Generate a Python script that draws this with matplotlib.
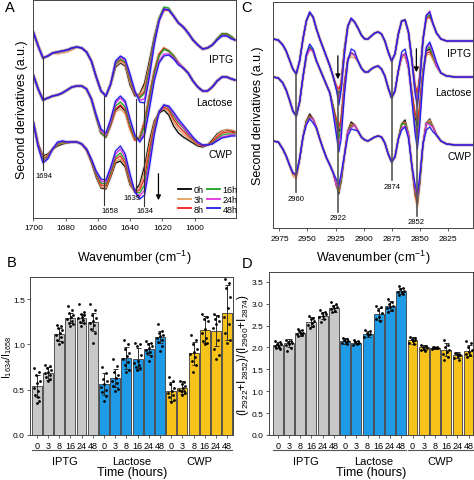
import numpy as np
import matplotlib
matplotlib.use('Agg')
import matplotlib.pyplot as plt
from matplotlib.lines import Line2D

plt.rcParams['font.family'] = ['Liberation Sans', 'DejaVu Sans']
plt.rcParams['mathtext.fontset'] = 'custom'
plt.rcParams['mathtext.rm'] = 'Liberation Sans'
plt.rcParams['mathtext.default'] = 'regular'

times = ['0h', '3h', '8h', '16h', '24h', '48h']
time_colors = ['black', '#e0a060', '#f02020', '#20a020', '#e030e0', '#1e1ee6']
groups = ['IPTG', 'Lactose', 'CWP']
hours = ['0', '3', '8', '16', '24', '48']

# ---- panel A: amide I second derivatives (offset traces, a.u., downward positive)
wn_A = [1700, 1697, 1694, 1691, 1688, 1685, 1682, 1679, 1676, 1673, 1670, 1667, 1664, 1661,
        1658, 1655, 1652, 1649, 1646, 1643, 1640, 1637, 1634, 1631, 1628, 1625, 1622, 1619,
        1616, 1613, 1610, 1607, 1604, 1601, 1598, 1595, 1592, 1589, 1586, 1583, 1580, 1577, 1575]

iptg_A_base = [33, 47, 59, 57, 54, 53, 52, 51, 49, 48, 49, 53, 62, 78, 92, 97, 85, 68, 64, 67, 86, 97,
               95, 84, 62, 38, 20, 11, 11, 17, 24, 28, 34, 41, 46, 50, 49, 46, 40, 35, 35, 38, 41]
iptg_A_edits = {
    '3h': {1685: 55, 1682: 54, 1679: 53, 1676: 51, 1649: 67, 1646: 63, 1643: 66, 1640: 84, 1637: 96,
           1634: 96, 1631: 87, 1628: 65, 1625: 40},
    '8h': {1649: 65, 1646: 61, 1643: 64, 1640: 81, 1637: 95, 1634: 98, 1631: 92, 1628: 69, 1625: 42, 1622: 21},
    '16h': {1649: 65, 1646: 60, 1643: 63, 1640: 80, 1637: 94, 1634: 99, 1631: 94, 1628: 70, 1625: 41,
            1622: 19, 1619: 8, 1616: 9},
    '24h': {1649: 63, 1646: 58, 1643: 61, 1640: 77, 1637: 93, 1634: 101, 1631: 100, 1628: 75, 1625: 44,
            1622: 21, 1619: 10, 1586: 41, 1583: 37, 1580: 37, 1577: 40},
    '48h': {1649: 62, 1646: 57, 1643: 60, 1640: 75, 1637: 92, 1634: 103, 1631: 104, 1628: 78, 1625: 46,
            1622: 22, 1619: 10, 1586: 41, 1583: 37, 1580: 37, 1577: 40},
}

lac_A_base = [76, 90, 101, 99, 97, 96, 94, 91, 88, 87, 87, 90, 100, 118, 134, 138, 126, 111, 107, 112,
              130, 141, 138, 122, 96, 72, 56, 50, 52, 57, 64, 69, 74, 82, 88, 92, 92, 88, 82, 78, 78, 80, 81]
lac_A_edits = {
    '3h': {1649: 113, 1646: 110, 1643: 115, 1640: 131, 1622: 55, 1619: 49},
    '8h': {1649: 110, 1646: 106, 1643: 111, 1640: 128, 1634: 139, 1631: 124, 1628: 98, 1625: 73,
           1622: 55, 1619: 49},
    '16h': {1652: 124, 1649: 107, 1646: 103, 1643: 108, 1640: 126, 1637: 139, 1634: 140, 1631: 127,
            1628: 101, 1625: 75, 1622: 57},
    '24h': {1661: 116, 1658: 132, 1655: 136, 1652: 122, 1649: 104, 1646: 99, 1643: 104, 1640: 122,
            1637: 137, 1634: 142, 1631: 133, 1628: 107, 1625: 80, 1622: 62, 1619: 55, 1616: 55, 1613: 59},
    '48h': {1661: 116, 1658: 130, 1655: 134, 1652: 120, 1649: 102, 1646: 97, 1643: 102, 1640: 120,
            1637: 136, 1634: 143, 1631: 136, 1628: 110, 1625: 82, 1622: 64, 1619: 57, 1616: 56,
            1613: 60, 1610: 66},
}

cwp_A = {
    '0h': [123, 145, 157, 155, 150, 147, 145, 144, 143, 143, 145, 151, 163, 178, 189, 190, 178, 164, 162, 168,
           186, 192, 185, 167, 142, 122, 114, 111, 116, 127, 134, 138, 141, 144, 147, 148, 146, 141, 135,
           132, 131, 132, 133],
    '3h': [123, 146, 158, 156, 150, 146, 144, 144, 143, 143, 145, 151, 162, 177, 188, 189, 177, 162, 160, 166,
           185, 193, 188, 172, 146, 124, 113, 109, 113, 123, 130, 135, 139, 142, 146, 147, 146, 142, 136,
           132, 131, 131, 132],
    '8h': [123, 146, 160, 157, 150, 145, 143, 143, 143, 143, 145, 151, 162, 176, 186, 187, 175, 160, 157, 164,
           183, 193, 191, 179, 151, 127, 113, 108, 111, 120, 127, 132, 137, 141, 145, 147, 146, 143, 138,
           134, 133, 133, 134],
    '16h': [123, 147, 161, 158, 150, 145, 143, 143, 143, 143, 145, 150, 161, 175, 184, 185, 173, 158, 154, 161,
            181, 193, 194, 186, 158, 130, 112, 106, 109, 117, 124, 129, 135, 140, 144, 146, 146, 144, 140,
            136, 135, 135, 135],
    '24h': [123, 147, 163, 159, 150, 144, 142, 143, 143, 143, 145, 150, 160, 173, 182, 183, 170, 155, 150, 158,
            178, 193, 197, 191, 163, 133, 113, 106, 108, 115, 122, 128, 134, 139, 144, 146, 146, 145, 141,
            138, 137, 136, 136],
    '48h': [123, 148, 164, 160, 150, 143, 142, 143, 143, 143, 145, 150, 160, 172, 180, 181, 168, 152, 147, 155,
            175, 193, 200, 196, 168, 136, 113, 106, 107, 113, 120, 126, 132, 138, 143, 146, 146, 145, 142,
            139, 138, 137, 137],
}

# ---- panel C: CH stretching region
wn_C = [2981, 2976, 2972, 2969, 2966, 2963, 2960, 2957, 2954, 2951, 2948, 2945, 2942, 2939, 2936, 2933,
        2930, 2927, 2924, 2922, 2920, 2917, 2914, 2911, 2908, 2905, 2902, 2899, 2896, 2893, 2890, 2887,
        2884, 2881, 2878, 2875, 2872, 2869, 2866, 2863, 2860, 2857, 2854, 2852, 2850, 2847, 2844, 2841,
        2838, 2835, 2831, 2826, 2818, 2810, 2802]

iptg_C_base = [40, 41, 46, 52, 61, 70, 75, 62, 40, 22, 14, 18, 30, 40, 49, 58, 67, 78, 89, 95,
               84, 50, 27, 20, 23, 29, 36, 40, 40, 37, 34, 33, 35, 42, 53, 62, 55, 35, 22, 21,
               33, 60, 90, 98, 78, 40, 18, 16, 25, 34, 40, 42, 42, 42, 42]
iptg_C_edits = {
    '3h': {2922: 92, 2852: 96},
    '8h': {2924: 87, 2922: 90, 2854: 86, 2852: 94, 2844: 20, 2841: 18},
    '16h': {2924: 90, 2922: 97, 2920: 87, 2854: 90, 2852: 100, 2850: 81},
    '24h': {2948: 13, 2924: 91, 2922: 101, 2920: 89, 2917: 53, 2854: 92, 2852: 103, 2850: 83,
            2844: 17, 2841: 12},
    '48h': {2948: 13, 2924: 92, 2922: 106, 2920: 92, 2917: 55, 2911: 19, 2854: 95, 2852: 108,
            2850: 85, 2847: 42, 2844: 16, 2841: 13},
}

lac_C_base = [78, 79, 84, 91, 101, 112, 117, 103, 78, 57, 48, 52, 62, 70, 78, 86, 94, 108, 124, 133,
              120, 84, 60, 54, 56, 62, 69, 73, 73, 70, 68, 67, 70, 77, 89, 99, 92, 72, 57, 55,
              68, 93, 118, 127, 108, 72, 52, 50, 58, 67, 74, 77, 78, 78, 78]
lac_C_edits = {
    '3h': {2948: 50, 2924: 122, 2922: 130, 2911: 58, 2908: 59, 2866: 59, 2863: 58, 2854: 115,
           2852: 123, 2844: 56, 2841: 55, 2838: 61},
    '8h': {2948: 50, 2924: 121, 2922: 128, 2854: 114, 2852: 122, 2844: 54, 2841: 53},
    '16h': {2924: 129, 2922: 140, 2920: 128, 2917: 90, 2857: 96, 2854: 126, 2852: 135, 2850: 116,
            2844: 50, 2841: 48},
    '24h': {2948: 50, 2927: 112, 2924: 134, 2922: 147, 2920: 134, 2917: 92, 2857: 98, 2854: 131,
            2852: 143, 2850: 122, 2847: 76, 2844: 49, 2841: 45, 2838: 54},
    '48h': {2951: 55, 2948: 45, 2945: 50, 2927: 115, 2924: 138, 2922: 153, 2920: 140, 2917: 95,
            2914: 62, 2911: 50, 2908: 52, 2866: 53, 2863: 50, 2860: 64, 2857: 100, 2854: 135,
            2852: 150, 2850: 128, 2847: 80, 2844: 48, 2841: 43, 2838: 52, 2835: 63},
}

cwp_C_base = [142, 143, 150, 157, 166, 174, 176, 160, 138, 122, 115, 120, 129, 140, 150, 159, 166, 174, 187, 195,
              182, 156, 132, 123, 126, 132, 138, 141, 142, 140, 138, 137, 138, 144, 155, 163, 158, 140, 125, 121,
              135, 166, 196, 206, 185, 145, 124, 120, 128, 136, 142, 145, 146, 146, 146]
cwp_C_edits = {
    '3h': {2963: 177, 2960: 180, 2948: 117, 2922: 193, 2911: 125, 2863: 123, 2854: 198, 2852: 209, 2841: 121},
    '8h': {2960: 178, 2948: 117, 2922: 191, 2911: 126, 2863: 124, 2852: 204, 2841: 123},
    '16h': {2948: 118, 2922: 190, 2911: 127, 2863: 125, 2854: 193, 2852: 202, 2841: 124},
    '24h': {2951: 124, 2948: 119, 2922: 188, 2920: 178, 2911: 129, 2866: 129, 2863: 127, 2854: 190,
            2852: 199, 2850: 181, 2841: 126},
    '48h': {2960: 175, 2951: 126, 2948: 120, 2945: 124, 2924: 181, 2922: 186, 2920: 175, 2914: 137,
            2911: 130, 2908: 131, 2866: 131, 2863: 128, 2860: 139, 2854: 186, 2852: 195, 2850: 178,
            2844: 131, 2841: 128, 2838: 133},
}

# ---- panel B: I1634/I1658
ratio_B = [0.54, 0.68, 1.11, 1.29, 1.29, 1.25, 0.56, 0.63, 0.85, 0.84, 0.95, 1.08,
           0.48, 0.52, 0.90, 1.16, 1.15, 1.35]
sd_B = [0.12, 0.07, 0.07, 0.06, 0.05, 0.10, 0.12, 0.10, 0.12, 0.12, 0.07, 0.07,
        0.10, 0.07, 0.13, 0.15, 0.17, 0.30]
dots_B = [
    [0.74, 0.70, 0.66, 0.60, 0.57, 0.52, 0.48, 0.44, 0.38, 0.35, 0.42],
    [0.77, 0.76, 0.74, 0.72, 0.70, 0.68, 0.66, 0.64, 0.62, 0.60],
    [1.21, 1.20, 1.18, 1.16, 1.13, 1.10, 1.08, 1.05, 1.03, 1.00],
    [1.42, 1.38, 1.35, 1.32, 1.30, 1.28, 1.26, 1.24, 1.22, 1.20],
    [1.44, 1.36, 1.34, 1.32, 1.30, 1.29, 1.27, 1.25, 1.23, 1.20],
    [1.44, 1.38, 1.32, 1.29, 1.26, 1.24, 1.21, 1.17, 1.12, 1.01],
    [0.75, 0.68, 0.62, 0.59, 0.56, 0.53, 0.50, 0.47, 0.43, 0.37],
    [0.84, 0.76, 0.70, 0.66, 0.63, 0.60, 0.57, 0.54, 0.51, 0.48],
    [1.05, 1.00, 0.95, 0.90, 0.87, 0.84, 0.81, 0.77, 0.72, 0.70],
    [1.01, 1.00, 0.98, 0.88, 0.82, 0.79, 0.77, 0.75, 0.74, 0.72],
    [1.04, 1.02, 1.00, 0.98, 0.96, 0.94, 0.92, 0.90, 0.87, 0.82],
    [1.22, 1.15, 1.12, 1.10, 1.09, 1.07, 1.05, 1.03, 0.98, 0.93],
    [0.64, 0.60, 0.56, 0.52, 0.49, 0.46, 0.44, 0.42, 0.39, 0.36],
    [0.60, 0.58, 0.56, 0.54, 0.52, 0.50, 0.49, 0.48, 0.46, 0.44],
    [1.10, 1.05, 1.00, 0.95, 0.92, 0.89, 0.86, 0.82, 0.77, 0.70],
    [1.33, 1.30, 1.28, 1.26, 1.17, 1.12, 1.07, 1.04, 1.02, 1.00],
    [1.33, 1.31, 1.28, 1.26, 1.22, 1.18, 1.05, 0.95, 0.88, 0.84],
    [1.72, 1.68, 1.62, 1.52, 1.40, 1.30, 1.22, 1.12, 1.05, 1.01],
]

# ---- panel D: (I2922+I2852)/(I2960+I2874)
ratio_D = [2.05, 2.10, 2.33, 2.58, 2.73, 2.90, 2.15, 2.11, 2.31, 2.77, 2.95, 3.29,
           2.16, 2.00, 1.99, 1.95, 1.83, 1.93]
sd_D = [0.07, 0.09, 0.07, 0.12, 0.08, 0.08, 0.06, 0.04, 0.07, 0.14, 0.11, 0.06,
        0.07, 0.05, 0.03, 0.15, 0.06, 0.13]
dots_D = [
    [2.15, 2.12, 2.09, 2.07, 2.05, 2.03, 2.01, 1.99, 1.97],
    [2.18, 2.15, 2.12, 2.10, 2.08, 2.05, 1.99, 1.93],
    [2.42, 2.40, 2.37, 2.34, 2.32, 2.30, 2.28, 2.26],
    [2.72, 2.68, 2.64, 2.60, 2.56, 2.52, 2.48, 2.45],
    [2.85, 2.82, 2.79, 2.76, 2.73, 2.70, 2.66, 2.58],
    [3.05, 3.00, 2.96, 2.93, 2.90, 2.87, 2.84, 2.80],
    [2.22, 2.20, 2.18, 2.15, 2.13, 2.11, 2.09],
    [2.16, 2.14, 2.12, 2.10, 2.08, 2.06],
    [2.40, 2.37, 2.33, 2.31, 2.28, 2.25],
    [2.95, 2.92, 2.85, 2.78, 2.70, 2.65, 2.60],
    [3.12, 3.05, 3.00, 2.96, 2.93, 2.90, 2.86, 2.80],
    [3.40, 3.36, 3.33, 3.30, 3.28, 3.26, 3.23, 3.20],
    [2.25, 2.22, 2.19, 2.16, 2.14, 2.11, 2.08],
    [2.05, 2.03, 2.01, 1.99, 1.97, 1.95, 1.93],
    [2.02, 2.01, 2.00, 1.99, 1.98, 1.97],
    [2.18, 2.05, 2.00, 1.95, 1.90, 1.85, 1.78, 1.72],
    [1.88, 1.86, 1.84, 1.82, 1.80, 1.76, 1.72],
    [2.15, 2.10, 2.02, 1.95, 1.90, 1.86, 1.82, 1.78],
]

group_colors = ['#c8c8c8', '#1e9be6', '#f7c21a']
spine_col = '#444444'


def trace(base, grid, edits):
    vals = list(base)
    for w, v in edits.items():
        vals[grid.index(w)] = v
    return vals


def style_axes(ax):
    for s in ax.spines.values():
        s.set_color(spine_col)
        s.set_linewidth(0.7)
    ax.tick_params(direction='out', length=2.5, width=0.6, labelsize=6, color=spine_col, pad=2)


def draw_traces(ax, grid, curves, halo=0.08):
    for curve_set in curves:
        for t, c in zip(times, time_colors):
            y = curve_set[t]
            ax.plot(grid, y, color=c, lw=2.4, alpha=halo, solid_capstyle='round')
            ax.plot(grid, y, color=c, lw=0.9)


def draw_bars(ax, means, errs, dots):
    x = np.arange(len(means))
    cols = [group_colors[i // 6] for i in x]
    ax.bar(x, means, width=0.88, color=cols, edgecolor='#3c3c3c', linewidth=0.6, zorder=1)
    ax.errorbar(x, means, yerr=errs, fmt='none', ecolor='#303030', elinewidth=0.7,
                capsize=1.8, capthick=0.7, zorder=2)
    jit = [-0.22, 0.18, -0.08, 0.26, 0.04, -0.28, 0.14, -0.16, 0.22, -0.02, 0.10]
    for i, pts in enumerate(dots):
        ax.plot([i + jit[k % len(jit)] for k in range(len(pts))], pts, 'o', color='black',
                ms=2.0, mew=0, zorder=3)
    ax.set_xticks(x)
    ax.set_xticklabels(hours * 3)


fig = plt.figure(figsize=(4.74, 4.81), dpi=100)

# ---------------- A
axA = fig.add_axes([0.0703, 0.5447, 0.4266, 0.4522])
curves_A = [
    {t: trace(iptg_A_base, wn_A, iptg_A_edits.get(t, {})) for t in times},
    {t: trace(lac_A_base, wn_A, lac_A_edits.get(t, {})) for t in times},
    cwp_A,
]
draw_traces(axA, wn_A, curves_A, halo=0.1)
axA.set_xlim(1700, 1574.6)
axA.set_ylim(219, 1.5)
axA.set_xticks([1700, 1680, 1660, 1640, 1620, 1600])
axA.set_yticks([])
style_axes(axA)
axA.set_xlabel('Wavenumber (cm$^{-1}$)', fontsize=9)
axA.xaxis.set_label_coords(0.5, -0.135)
axA.set_ylabel('Second derivatives (a.u.)', fontsize=9)
axA.yaxis.set_label_coords(-0.028, 0.5)

for pos, y0, y1 in [(1693.8, 58, 171), (1656.3, 97, 206), (1636.5, 100, 193), (1631.5, 104, 207)]:
    axA.plot([pos, pos], [y0, y1], color='#333333', lw=0.8, zorder=5)
for lab, pos, y in [('1694', 1693.3, 177), ('1658', 1652.6, 211.5), ('1639', 1638.7, 199), ('1634', 1631, 211.5)]:
    axA.text(pos, y, lab, ha='center', va='center', fontsize=5.5)
for lab, y in zip(groups, [60, 103, 155.5]):
    axA.text(1576.3, y, lab, ha='right', va='center', fontsize=7.5)
axA.annotate('', xy=(1622.4, 204), xytext=(1622.4, 172),
             arrowprops=dict(arrowstyle='-|>', color='black', lw=0.9, mutation_scale=7))
handles = [Line2D([], [], color=c, lw=1.3) for c in time_colors]
axA.legend(handles, times, ncol=2, loc='lower right', bbox_to_anchor=(1.01, 0.02), frameon=False,
           fontsize=6.5, handlelength=1.4, handletextpad=0.3, columnspacing=0.4, labelspacing=0.1,
           borderaxespad=0, borderpad=0)

# ---------------- C
axC = fig.add_axes([0.5753, 0.5233, 0.4236, 0.4711])
curves_C = [
    {t: trace(iptg_C_base, wn_C, iptg_C_edits.get(t, {})) for t in times},
    {t: trace(lac_C_base, wn_C, lac_C_edits.get(t, {})) for t in times},
    {t: trace(cwp_C_base, wn_C, cwp_C_edits.get(t, {})) for t in times},
]
draw_traces(axC, wn_C, curves_C, halo=0.06)
axC.set_xlim(2981, 2802)
axC.set_ylim(229.3, 2.7)
axC.set_xticks([2975, 2950, 2925, 2900, 2875, 2850, 2825])
axC.set_yticks([])
style_axes(axC)
axC.set_xlabel('Wavenumber (cm$^{-1}$)', fontsize=9)
axC.xaxis.set_label_coords(0.5, -0.085)
axC.set_ylabel('Second derivatives (a.u.)', fontsize=9)
axC.yaxis.set_label_coords(-0.043, 0.5)

for pos, y0, y1 in [(2960.5, 75, 193), (2922.6, 93, 213), (2874.5, 62, 181), (2852.3, 100, 217)]:
    axC.plot([pos, pos], [y0, y1], color='#555555', lw=1.2, zorder=5)
for lab, pos, y in [('2960', 2960, 200), ('2922', 2922.6, 219), ('2874', 2874.5, 188), ('2852', 2853, 222.5)]:
    axC.text(pos, y, lab, ha='center', va='center', fontsize=5.5)
for lab, y in zip(groups, [54, 93, 157]):
    axC.text(2803.8, y, lab, ha='right', va='center', fontsize=7.5)
for pos, y0, y1 in [(2922.9, 54, 83), (2852.9, 47, 76)]:
    axC.annotate('', xy=(pos, y1), xytext=(pos, y0),
                 arrowprops=dict(arrowstyle='-|>', color='black', lw=0.9, mutation_scale=7))

# ---------------- B
axB = fig.add_axes([0.0633, 0.0936, 0.4289, 0.3279])
draw_bars(axB, ratio_B, sd_B, dots_B)
axB.set_xlim(-0.6, 17.54)
axB.set_ylim(0, 1.74)
axB.set_yticks([0.0, 0.5, 1.0, 1.5])
axB.set_yticklabels(['0.0', '0.5', '1.0', '1.5'])
style_axes(axB)
axB.tick_params(axis='x', labelsize=6.5)
axB.tick_params(axis='y', pad=1.2)
axB.set_ylabel('I$_{1634}$/I$_{1658}$', fontsize=7.5)
axB.yaxis.set_label_coords(-0.078, 0.5)

# ---------------- D
axD = fig.add_axes([0.5681, 0.0936, 0.4304, 0.3383])
draw_bars(axD, ratio_D, sd_D, dots_D)
axD.set_xlim(-0.75, 17.41)
axD.set_ylim(0, 3.72)
axD.set_yticks([0.0, 0.5, 1.0, 1.5, 2.0, 2.5, 3.0, 3.5])
axD.set_yticklabels(['0.0', '0.5', '1.0', '1.5', '2.0', '2.5', '3.0', '3.5'])
style_axes(axD)
axD.tick_params(axis='x', labelsize=6.5)
axD.set_ylabel('(I$_{2922}$+I$_{2852}$)/(I$_{2960}$+I$_{2874}$)', fontsize=8.5)
axD.yaxis.set_label_coords(-0.09, 0.5)

for ax, yl, yg, yt in [(axB, -0.095, -0.165, -0.235), (axD, -0.092, -0.16, -0.228)]:
    tr = ax.get_xaxis_transform()
    for k, g in enumerate(groups):
        ax.plot([6 * k - 0.42, 6 * k + 5.42], [yl, yl], transform=tr, clip_on=False, color='#555555', lw=0.8)
        ax.text(6 * k + 2.5, yg, g, transform=tr, ha='center', va='center', fontsize=8)
    ax.text(0.5, yt, 'Time (hours)', transform=ax.transAxes, ha='center', va='center', fontsize=9)

# panel letters
for lab, x, y in [('A', 10, 8), ('B', 12, 263), ('C', 247, 8), ('D', 247, 264)]:
    fig.text(x / 474, 1 - y / 481, lab, ha='center', va='center', fontsize=10.5)

fig.savefig('out.png', dpi=100)
